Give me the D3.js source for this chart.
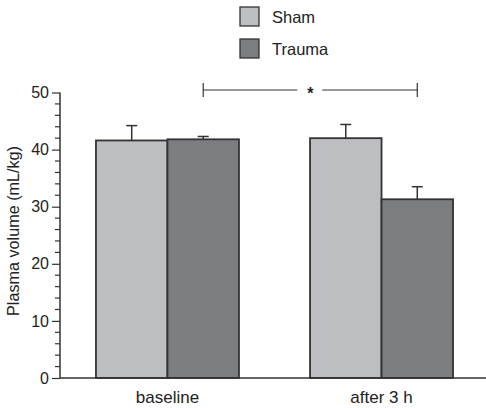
<!DOCTYPE html>
<html><head><meta charset="utf-8">
<script src="https://cdn.jsdelivr.net/npm/d3@7"></script>
<style>body{margin:0;background:#fff}svg{display:block}text{font-family:"Liberation Sans",Arial,sans-serif;fill:#222}</style>
</head><body><svg id="c" width="486" height="408"></svg>
<script>
const categories = ["baseline", "after 3 h"];
const series = ["Sham", "Trauma"];
const shamValues = [41.6, 42.0];
const traumaValues = [41.8, 31.3];
const shamErr = [2.6, 2.4];
const traumaErr = [0.5, 2.2];
const yTicks = [0, 10, 20, 30, 40, 50];
const colors = ["#bdbec2", "#7c7d81"];

const svg = d3.select("#c");
const y = d3.scaleLinear().domain([0, 50]).range([378, 92.5]);
const x0 = d3.scaleBand().domain(categories).range([60, 489]).paddingInner(0.332).paddingOuter(0.168);
const x1 = d3.scaleBand().domain(series).range([0, x0.bandwidth()]);

const data = categories.map((c, i) => ({cat: c, vals: [
  {s: "Sham", v: shamValues[i], e: shamErr[i]},
  {s: "Trauma", v: traumaValues[i], e: traumaErr[i]}]}));

const g = svg.append("g");
const grp = g.selectAll(".grp").data(data).join("g").attr("transform", d => `translate(${x0(d.cat)},0)`);
// error bars
grp.selectAll(".err").data(d => d.vals).join("g").each(function(d) {
  const cx = x1(d.s) + x1.bandwidth() / 2;
  const s = d3.select(this);
  s.append("line").attr("x1", cx).attr("x2", cx).attr("y1", y(d.v)).attr("y2", y(d.v + d.e)).attr("stroke", "#333").attr("stroke-width", 1.5);
  s.append("line").attr("x1", cx - 5.5).attr("x2", cx + 5.5).attr("y1", y(d.v + d.e)).attr("y2", y(d.v + d.e)).attr("stroke", "#333").attr("stroke-width", 1.5);
});
grp.selectAll("rect").data(d => d.vals).join("rect")
  .attr("x", d => x1(d.s)).attr("width", x1.bandwidth())
  .attr("y", d => y(d.v)).attr("height", d => y(0) - y(d.v))
  .attr("fill", (d, i) => colors[i]).attr("stroke", "#333").attr("stroke-width", 1.8);

// y axis
const yAxis = d3.axisLeft(y).tickValues(yTicks).tickSize(8).tickPadding(3);
const ya = svg.append("g").attr("transform", "translate(60,0)").call(yAxis);
ya.select(".domain").attr("stroke", "#333").attr("stroke-width", 1.5).attr("d", `M0,${y(0)}V${y(50)}`);
ya.selectAll(".tick line").attr("stroke", "#333").attr("stroke-width", 1.2);
ya.selectAll(".tick text").attr("font-size", 16).attr("fill", "#222").style("font-family", '"Liberation Sans",Arial,sans-serif');
const minor = d3.range(0, 51, 2).filter(v => v % 10 !== 0);
ya.selectAll(".minor").data(minor).join("line").attr("x1", -5).attr("x2", 0)
  .attr("y1", d => y(d)).attr("y2", d => y(d)).attr("stroke", "#333").attr("stroke-width", 1.2);

// x axis
svg.append("line").attr("x1", 60).attr("x2", 486).attr("y1", y(0)).attr("y2", y(0)).attr("stroke", "#333").attr("stroke-width", 1.6);
svg.selectAll(".xl").data(categories).join("text")
  .attr("x", d => x0(d) + x0.bandwidth() / 2).attr("y", 403).attr("text-anchor", "middle").attr("font-size", 17).text(d => d);

// y title
svg.append("text").attr("transform", "translate(19,231) rotate(-90)").attr("text-anchor", "middle").attr("font-size", 16.2).text("Plasma volume (mL/kg)");

// legend
const lg = svg.selectAll(".lg").data(series).join("g").attr("transform", (d, i) => `translate(240,${7 + i * 32})`);
lg.append("rect").attr("width", 19).attr("height", 19).attr("fill", (d, i) => colors[i]).attr("stroke", "#333").attr("stroke-width", 1.3);
lg.append("text").attr("x", 32).attr("y", 16).attr("font-size", 16.5).text(d => d);

// significance bracket
const bx1 = x0("baseline") + x1("Trauma") + x1.bandwidth() / 2;
const bx2 = x0("after 3 h") + x1("Trauma") + x1.bandwidth() / 2;
const by = 90, mid = (bx1 + bx2) / 2;
const br = svg.append("g").attr("stroke", "#333").attr("stroke-width", 1.2);
br.append("line").attr("x1", bx1).attr("x2", mid - 13).attr("y1", by).attr("y2", by);
br.append("line").attr("x1", mid + 12).attr("x2", bx2).attr("y1", by).attr("y2", by);
br.append("line").attr("x1", bx1).attr("x2", bx1).attr("y1", by - 7).attr("y2", by + 7);
br.append("line").attr("x1", bx2).attr("x2", bx2).attr("y1", by - 7).attr("y2", by + 7);
svg.append("text").attr("x", mid).attr("y", by + 9).attr("text-anchor", "middle").attr("font-size", 16).attr("font-weight", "bold").text("*");
</script></body></html>
